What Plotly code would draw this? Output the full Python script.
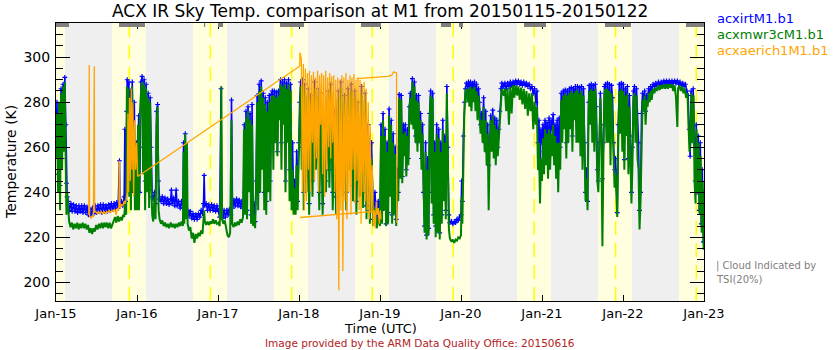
import plotly.graph_objects as go

# Hours are counted from 2015-01-15 00:00 UTC.

# acxirtM1.b1 : IR thermometer sky brightness temperature (K)
irt = [
    (0.0, 262), (0.3, 280), (0.6, 248), (0.9, 275), (1.2, 243), (1.5, 286), (1.8, 255), (2.1, 288),
    (2.4, 262), (2.6, 291), (2.9, 270), (3.1, 244), (3.3, 238), (3.6, 236),
    (4.0, 232), (4.4, 235), (4.8, 231.5), (5.2, 234.5), (5.6, 231.5), (6.0, 234), (6.4, 231), (6.8, 234),
    (7.2, 231.5), (7.6, 234), (8.0, 231), (8.4, 234), (8.8, 231), (9.2, 233.5), (9.6, 230), (10.0, 232.5),
    (10.4, 229.5), (10.8, 233), (11.2, 230.5), (11.6, 234), (12.0, 231), (12.4, 234), (12.8, 231.5),
    (13.2, 234.5), (13.6, 231), (14.0, 234.5), (14.4, 231.5), (14.8, 234), (15.2, 231.5), (15.6, 234.5),
    (16.0, 232), (16.4, 235), (16.8, 232.5), (17.2, 235), (17.6, 233), (18.0, 235.5), (18.4, 233),
    (18.8, 254), (19.0, 234), (19.4, 236), (19.8, 234), (20.2, 238),
    (20.4, 268), (20.6, 236), (20.9, 276), (21.1, 290), (21.3, 245), (21.6, 289), (21.8, 250), (22.0, 285),
    (22.3, 240), (22.6, 289), (22.9, 255), (23.2, 280), (23.5, 240), (23.8, 262), (24.1, 238), (24.5, 274),
    (24.8, 240), (25.2, 289), (25.5, 291.5), (25.8, 260), (26.1, 290), (26.4, 245), (26.7, 288), (27.0, 250),
    (27.3, 284), (27.6, 241), (27.9, 282), (28.2, 260), (28.5, 238), (28.8, 237), (29.2, 240), (29.5, 235),
    (29.8, 276), (30.1, 279), (30.4, 245), (30.7, 237), (31.1, 236),
    (31.5, 238), (31.9, 235), (32.3, 237.5), (32.7, 235), (33.1, 237), (33.5, 234.5), (34.0, 237),
    (34.2, 241), (34.4, 235), (34.8, 237.5), (35.2, 234), (35.6, 241), (35.9, 234), (36.3, 236), (36.8, 233),
    (37.2, 236), (37.6, 233), (37.8, 262), (38.0, 233), (38.3, 266), (38.5, 232),
    (39.0, 232), (39.4, 229.5), (39.8, 231.5), (40.2, 228.5), (40.6, 230.5), (41.0, 228), (41.4, 230),
    (41.8, 228), (42.2, 230.5), (42.6, 229), (43.0, 232), (43.4, 230.5), (43.7, 235), (43.9, 247.5),
    (44.1, 234), (44.5, 235), (44.9, 232), (45.3, 234.5), (45.7, 232), (46.1, 234.5), (46.5, 232),
    (46.9, 234), (47.3, 231.5), (47.7, 234),
    (48.1, 232), (48.5, 229), (48.9, 286), (49.1, 231), (49.4, 228.5), (49.8, 232), (50.2, 229), (50.6, 232),
    (51.0, 230), (51.4, 232.5), (51.8, 230), (52.0, 281), (52.3, 233), (52.7, 236.5), (53.1, 234), (53.5, 237),
    (53.9, 234), (54.3, 236.5), (54.7, 233.5), (55.1, 236), (55.5, 233),
    (55.8, 270), (56.0, 240), (56.3, 276), (56.6, 232), (56.9, 278), (57.2, 250), (57.5, 275), (57.8, 230),
    (58.1, 279), (58.4, 227), (58.7, 235), (59.0, 227), (59.3, 245),
    (59.6, 283), (59.9, 240), (60.2, 288), (60.5, 255), (60.8, 289.5), (61.1, 262), (61.4, 284), (61.7, 240),
    (62.0, 282), (62.3, 236), (62.6, 280), (62.9, 250), (63.2, 283), (63.5, 245), (63.8, 283.5),
    (64.1, 285), (64.4, 262), (64.7, 285), (65.0, 270), (65.3, 284.5), (65.6, 258), (65.9, 285), (66.2, 277),
    (66.5, 290), (66.8, 262), (67.1, 289), (67.4, 279), (67.7, 290), (68.0, 245), (68.3, 288.5), (68.6, 270),
    (68.9, 290), (69.2, 250), (69.5, 288),
    (69.8, 240), (70.1, 262), (70.4, 236), (70.7, 245), (71.0, 234), (71.3, 258), (71.6, 236), (71.9, 262),
    (72.2, 280), (72.5, 289), (72.8, 260), (73.1, 290), (73.4, 240), (73.8, 288), (74.2, 250), (74.6, 286),
    (75.0, 235), (75.5, 283), (76.0, 245), (76.5, 289), (77.0, 262), (77.5, 286), (78.0, 240), (78.5, 284),
    (79.0, 235), (79.5, 266), (80.0, 245), (80.5, 285), (81.0, 250), (81.5, 288), (82.0, 240), (82.5, 276),
    (83.0, 238), (83.5, 285), (84.0, 255), (84.5, 289), (85.0, 246), (85.5, 283), (86.0, 240), (86.5, 286),
    (87.0, 260), (87.5, 288), (88.0, 243), (88.5, 285), (89.0, 236), (89.5, 280), (90.0, 245), (90.5, 287),
    (91.0, 240), (91.5, 284), (92.0, 234), (92.5, 270), (93.0, 232), (93.5, 262), (94.0, 228), (94.5, 240),
    (95.0, 227), (95.5, 236), (96.0, 228),
    (96.3, 270), (96.6, 232), (96.9, 275), (97.2, 240), (97.5, 268), (97.8, 226), (98.1, 262), (98.4, 231),
    (98.7, 277), (99.0, 245), (99.3, 272), (99.6, 230), (99.9, 266), (100.2, 235), (100.5, 260), (100.8, 228),
    (101.1, 250), (101.4, 240), (101.7, 283.5), (102.0, 250), (102.3, 283), (102.6, 247), (102.9, 270),
    (103.2, 260), (103.5, 270), (103.8, 250), (104.1, 268), (104.4, 255), (104.7, 278),
    (105.0, 284), (105.3, 275), (105.6, 290.5), (105.9, 272), (106.2, 289), (106.5, 265), (106.8, 283),
    (107.1, 262), (107.4, 283), (107.7, 265), (108.0, 275), (108.3, 255), (108.6, 270),
    (108.9, 240), (109.2, 225), (109.5, 262), (109.8, 221), (110.1, 255), (110.4, 224), (110.7, 275),
    (111.0, 285), (111.3, 240), (111.6, 284), (111.9, 230), (112.2, 262), (112.5, 225), (112.8, 270),
    (113.1, 226), (113.4, 268), (113.7, 222), (114.0, 262), (114.3, 230), (114.6, 272), (114.9, 240),
    (115.2, 265), (115.5, 232), (115.8, 287), (116.1, 260), (116.4, 230),
    (116.7, 226.5), (117.2, 227), (117.6, 226), (118.0, 227), (118.4, 226.5), (118.8, 228), (119.2, 227.5),
    (119.6, 229), (120.0, 230), (120.2, 245),
    (120.4, 236), (120.7, 265), (121.0, 280), (121.3, 286), (121.6, 288.5), (121.9, 287), (122.2, 289),
    (122.5, 285), (122.8, 289), (123.1, 284), (123.4, 288.5), (123.7, 286), (124.0, 289), (124.3, 283),
    (124.6, 288), (124.9, 282), (125.2, 286), (125.5, 280),
    (125.8, 270), (126.1, 275), (126.4, 268), (126.7, 282), (127.0, 262), (127.3, 276), (127.6, 258),
    (127.9, 270), (128.2, 252), (128.5, 262), (128.8, 274), (129.1, 262), (129.4, 276.5), (129.7, 260),
    (130.0, 273), (130.3, 258), (130.6, 272), (130.9, 260), (131.2, 268), (131.5, 276),
    (131.8, 286), (132.1, 288.5), (132.4, 287), (132.7, 287), (133.0, 288.5), (133.4, 286), (133.8, 288.5),
    (134.2, 287), (134.6, 289), (135.0, 287.5), (135.4, 289), (135.8, 288), (136.2, 289.5), (136.6, 288),
    (137.0, 289.5), (137.4, 288), (137.8, 289), (138.2, 287.5), (138.6, 289), (139.0, 287.5), (139.4, 288.5),
    (139.8, 287), (140.2, 288), (140.6, 286), (141.0, 287), (141.4, 284), (141.8, 286), (142.2, 280),
    (142.5, 285), (142.8, 262), (143.1, 272), (143.4, 250), (143.7, 268), (144.0, 262),
    (144.3, 270), (144.6, 258), (144.9, 272), (145.2, 262), (145.5, 271), (145.8, 255), (146.1, 273),
    (146.4, 258), (146.7, 272), (147.0, 268), (147.3, 274.5), (147.6, 265), (147.9, 270), (148.2, 262),
    (148.5, 272), (148.8, 255), (149.1, 273), (149.4, 260),
    (149.7, 284), (150.0, 270), (150.3, 285), (150.6, 278), (150.9, 285.5), (151.2, 262), (151.5, 285),
    (151.8, 270), (152.1, 286), (152.4, 275), (152.7, 286.5), (153.0, 265), (153.3, 286), (153.6, 280),
    (153.9, 287), (154.2, 275), (154.5, 287), (154.8, 270), (155.1, 286.5), (155.4, 264), (155.7, 287),
    (156.0, 258), (156.3, 286), (156.6, 262), (156.9, 240), (157.2, 250), (157.5, 236), (157.8, 280),
    (158.0, 287.5), (158.3, 280), (158.6, 288), (158.9, 275), (159.2, 287.5), (159.5, 270), (159.8, 288),
    (160.1, 278), (160.4, 250), (160.7, 245), (161.0, 262), (161.3, 284), (161.6, 270), (161.9, 246),
    (162.2, 262), (162.5, 287), (162.8, 288), (163.1, 270), (163.4, 288.5), (163.7, 275), (164.0, 288),
    (164.3, 265), (164.6, 287.5), (164.9, 282), (165.2, 262), (165.5, 250), (165.8, 255), (166.0, 245),
    (166.3, 231), (166.6, 270), (166.9, 288), (167.2, 275), (167.5, 288.5), (167.8, 270), (168.1, 288),
    (168.4, 254.5), (168.7, 286), (169.0, 275), (169.3, 287), (169.6, 255), (169.9, 283),
    (170.2, 265), (170.5, 240), (170.8, 260), (171.1, 285), (171.4, 287), (171.7, 270), (172.0, 286),
    (172.3, 275), (172.6, 262), (172.9, 232), (173.2, 240), (173.5, 275),
    (173.8, 284), (174.1, 280), (174.4, 285), (174.7, 276), (175.0, 283), (175.3, 282), (175.6, 286),
    (175.9, 284), (176.2, 287), (176.5, 285),
    (176.9, 288), (177.3, 287), (177.7, 288.5), (178.1, 287.5), (178.5, 289), (178.9, 287.5), (179.3, 289),
    (179.7, 288), (180.1, 289.5), (180.5, 288), (180.9, 289.5), (181.3, 288.5), (181.7, 289.5), (182.1, 288),
    (182.5, 289.5), (182.9, 288.5), (183.3, 289.5), (183.7, 288.5), (184.1, 289.5), (184.5, 288), (184.9, 289),
    (185.3, 287.5), (185.7, 288.5), (186.1, 287), (186.5, 288), (186.9, 285), (187.3, 283),
    (187.6, 268), (187.9, 256), (188.2, 285), (188.5, 270), (188.8, 286), (189.1, 262),
    (189.4, 245), (189.7, 270), (190.0, 240), (190.3, 265), (190.6, 232), (190.9, 262), (191.2, 226),
    (191.5, 250), (191.8, 218), (192.0, 240),
]

# acxmwr3cM1.b1 : microwave radiometer sky temperature (K)
mwr = [
    (0.0, 255), (0.3, 275), (0.6, 240), (0.9, 280), (1.2, 232), (1.5, 284), (1.8, 250), (2.1, 287),
    (2.4, 258), (2.6, 289), (2.9, 250), (3.1, 230), (3.3, 240), (3.6, 230),
    (3.9, 227), (4.3, 224.5), (4.7, 226.5), (5.1, 223.5), (5.5, 226), (5.9, 224), (6.3, 226.5), (6.7, 223.5),
    (7.1, 226), (7.5, 224), (7.9, 226.5), (8.3, 224), (8.7, 226), (9.1, 223.5), (9.5, 225.5), (9.9, 222),
    (10.3, 224), (10.7, 221.5), (11.1, 224), (11.5, 222.5), (11.9, 225.5), (12.3, 223.5), (12.7, 226),
    (13.1, 224), (13.5, 226.5), (13.9, 224), (14.3, 226.5), (14.7, 224.5), (15.1, 226.5), (15.5, 224),
    (15.9, 226.5), (16.3, 224), (16.7, 225.5), (17.1, 227), (17.5, 229), (17.9, 226.5), (18.3, 229.5),
    (18.7, 227), (19.1, 229), (19.5, 227.5), (19.9, 230), (20.2, 229), (20.5, 235), (20.8, 230),
    (21.0, 287), (21.2, 240), (21.5, 286), (21.7, 238), (22.0, 280), (22.2, 232), (22.5, 287), (22.8, 240),
    (23.1, 270), (23.4, 232), (23.7, 258), (24.0, 232), (24.3, 270), (24.6, 232), (24.9, 276), (25.2, 285),
    (25.5, 289), (25.8, 248), (26.1, 288), (26.4, 232), (26.7, 286), (27.0, 240), (27.3, 282), (27.6, 233),
    (27.9, 280), (28.2, 246), (28.5, 230), (28.8, 227), (29.2, 238), (29.5, 228), (29.8, 270), (30.1, 278),
    (30.4, 232), (30.7, 228), (31.1, 226),
    (31.5, 227.5), (31.9, 225), (32.3, 226.5), (32.7, 224.5), (33.1, 226), (33.5, 224), (34.0, 226.5),
    (34.4, 224.5), (34.8, 226), (35.2, 224), (35.6, 226), (36.0, 224.5), (36.4, 226.5), (36.8, 225),
    (37.2, 227), (37.6, 225), (37.8, 258), (38.0, 226), (38.3, 266), (38.5, 228), (38.8, 262), (39.0, 226),
    (39.4, 223), (39.8, 224.5), (40.2, 219.5), (40.6, 222), (41.0, 217.5), (41.4, 221.5), (41.8, 219.5),
    (42.2, 222), (42.6, 220.5), (43.0, 223), (43.4, 221.5), (43.7, 226), (43.9, 232), (44.1, 227),
    (44.5, 225.5), (44.9, 227), (45.3, 225.5), (45.7, 227), (46.1, 226), (46.5, 228), (46.9, 226),
    (47.3, 227.5), (47.7, 226),
    (48.1, 226.5), (48.5, 225), (48.8, 240), (49.0, 287), (49.2, 228), (49.6, 226), (50.0, 227.5),
    (50.4, 223), (50.8, 221), (51.2, 220), (51.6, 222), (52.0, 272), (52.2, 226), (52.6, 224.5), (53.0, 226.5),
    (53.4, 225), (53.8, 227), (54.2, 225.5), (54.6, 228), (55.0, 226.5), (55.4, 229),
    (55.7, 268), (56.0, 230), (56.3, 273), (56.6, 228), (56.9, 276), (57.2, 240), (57.5, 272), (57.8, 226),
    (58.1, 270), (58.4, 225), (58.7, 230), (59.0, 224), (59.3, 244),
    (59.6, 280), (59.9, 232), (60.2, 285), (60.5, 240), (60.8, 287), (61.1, 250), (61.4, 282), (61.7, 232),
    (62.0, 279), (62.3, 230), (62.6, 276), (62.9, 240), (63.2, 280), (63.5, 236), (63.8, 281), (64.1, 283),
    (64.4, 250), (64.7, 283), (65.0, 262), (65.3, 282), (65.6, 256), (65.9, 283), (66.2, 272), (66.5, 288),
    (66.8, 250), (67.1, 287), (67.4, 270), (67.7, 288), (68.0, 240), (68.3, 286), (68.6, 262), (68.9, 288),
    (69.2, 236), (69.5, 285), (69.8, 232), (70.1, 250), (70.4, 230), (70.7, 242), (71.0, 230), (71.3, 252),
    (71.6, 232), (71.9, 255), (72.2, 278),
    (72.5, 287), (72.8, 250), (73.1, 288), (73.4, 232), (73.8, 285), (74.2, 240), (74.6, 283), (75.0, 230),
    (75.5, 280), (76.0, 238), (76.5, 286), (77.0, 250), (77.5, 283), (78.0, 232), (78.5, 280), (79.0, 230),
    (79.5, 262), (80.0, 240), (80.5, 282), (81.0, 242), (81.5, 285), (82.0, 232), (82.5, 270), (83.0, 230),
    (83.5, 282), (84.0, 246), (84.5, 286), (85.0, 238), (85.5, 280), (86.0, 232), (86.5, 283), (87.0, 250),
    (87.5, 285), (88.0, 236), (88.5, 282), (89.0, 230), (89.5, 276), (90.0, 238), (90.5, 284), (91.0, 233),
    (91.5, 281), (92.0, 228), (92.5, 265), (93.0, 226), (93.5, 255), (94.0, 225), (94.5, 233), (95.0, 224),
    (95.5, 229), (96.0, 225),
    (96.3, 265), (96.6, 226), (96.9, 272), (97.2, 232), (97.5, 265), (97.8, 225), (98.1, 258), (98.4, 226),
    (98.7, 274), (99.0, 238), (99.3, 270), (99.6, 226), (99.9, 262), (100.2, 230), (100.5, 257), (100.8, 225),
    (101.1, 246), (101.4, 236), (101.7, 282), (102.0, 246), (102.3, 281), (102.6, 244), (102.9, 266),
    (103.2, 256), (103.5, 267), (103.8, 247), (104.1, 265), (104.4, 252), (104.7, 276), (105.0, 282),
    (105.3, 270), (105.6, 289), (105.9, 268), (106.2, 287), (106.5, 262), (106.8, 281), (107.1, 258),
    (107.4, 280), (107.7, 262), (108.0, 272), (108.3, 250), (108.6, 266), (108.9, 236), (109.2, 222),
    (109.5, 258), (109.8, 219), (110.1, 250), (110.4, 221), (110.7, 272), (111.0, 283), (111.3, 235),
    (111.6, 282), (111.9, 226), (112.2, 258), (112.5, 220), (112.8, 266), (113.1, 222), (113.4, 264),
    (113.7, 219), (114.0, 258), (114.3, 226), (114.6, 268), (114.9, 236), (115.2, 262), (115.5, 228),
    (115.8, 284), (116.1, 255), (116.4, 224), (116.7, 219.5), (117.2, 218), (117.6, 219), (118.0, 217.5),
    (118.4, 219), (118.8, 218.5), (119.2, 220), (119.6, 219.5), (120.0, 221), (120.2, 238), (120.4, 226),
    (120.7, 258), (121.0, 276), (121.3, 284), (121.6, 286), (121.9, 280), (122.2, 286), (122.5, 278),
    (122.8, 287), (123.1, 276), (123.4, 286), (123.7, 280), (124.0, 287), (124.3, 276), (124.6, 285),
    (124.9, 272), (125.2, 283), (125.5, 274), (125.8, 266), (126.1, 272), (126.4, 262), (126.7, 278),
    (127.0, 258), (127.3, 272), (127.6, 252), (127.9, 266), (128.2, 232), (128.5, 258), (128.8, 272),
    (129.1, 258), (129.4, 274), (129.7, 255), (130.0, 270), (130.3, 252), (130.6, 268), (130.9, 256),
    (131.2, 264), (131.5, 273), (131.8, 283), (132.1, 286), (132.4, 284),
    (132.7, 283), (133.0, 286), (133.4, 276), (133.8, 286), (134.2, 270), (134.6, 287), (135.0, 275),
    (135.4, 287.5), (135.8, 282), (136.2, 287.5), (136.6, 283), (137.0, 287), (137.4, 281), (137.8, 286.5),
    (138.2, 279), (138.6, 286), (139.0, 277), (139.4, 285), (139.8, 274), (140.2, 284), (140.6, 276),
    (141.0, 284), (141.4, 268), (141.8, 280), (142.2, 270), (142.5, 278), (142.8, 250), (143.1, 262),
    (143.4, 235), (143.7, 255), (144.0, 245),
    (144.3, 264), (144.6, 248), (144.9, 268), (145.2, 252), (145.5, 266), (145.8, 246), (146.1, 268),
    (146.4, 250), (146.7, 266), (147.0, 256), (147.3, 270), (147.6, 252), (147.9, 265), (148.2, 246),
    (148.5, 262), (148.8, 240), (149.1, 262), (149.4, 250),
    (149.7, 281), (150.0, 262), (150.3, 283), (150.6, 268), (150.9, 284), (151.2, 255), (151.5, 283),
    (151.8, 262), (152.1, 284), (152.4, 268), (152.7, 285), (153.0, 258), (153.3, 284), (153.6, 272),
    (153.9, 285), (154.2, 262), (154.5, 285.5), (154.8, 262), (155.1, 284), (155.4, 256), (155.7, 285),
    (156.0, 250), (156.3, 283), (156.6, 252), (156.9, 236), (157.2, 246), (157.5, 232), (157.8, 276),
    (158.0, 285), (158.3, 270), (158.6, 286), (158.9, 262), (159.2, 285), (159.5, 258), (159.8, 286),
    (160.1, 268), (160.4, 245), (160.7, 240), (161.0, 256), (161.3, 282), (161.6, 262), (161.9, 216),
    (162.2, 255), (162.5, 284), (162.8, 286), (163.1, 262), (163.4, 286), (163.7, 262), (164.0, 285),
    (164.3, 252), (164.6, 284), (164.9, 270), (165.2, 252), (165.5, 242), (165.8, 248), (166.0, 236),
    (166.3, 229), (166.6, 262), (166.9, 285), (167.2, 266), (167.5, 286), (167.8, 258), (168.1, 285),
    (168.4, 250), (168.7, 283), (169.0, 265), (169.3, 284), (169.6, 248), (169.9, 278), (170.2, 255),
    (170.5, 235), (170.8, 252), (171.1, 282), (171.4, 284), (171.7, 262), (172.0, 283), (172.3, 255),
    (172.6, 250), (172.9, 223.5), (173.2, 236), (173.5, 268), (173.8, 281), (174.1, 276), (174.4, 283),
    (174.7, 270), (175.0, 281), (175.3, 278), (175.6, 284), (175.9, 280), (176.2, 285), (176.5, 281),
    (176.9, 286), (177.3, 284), (177.7, 286.5), (178.1, 285), (178.5, 287.5), (178.9, 285.5), (179.3, 287.5),
    (179.7, 286), (180.1, 288), (180.5, 286), (180.9, 288), (181.3, 286), (181.7, 288), (182.1, 286.5),
    (182.5, 288), (182.9, 285), (183.3, 287.5), (183.7, 282), (184.1, 269), (184.3, 286), (184.7, 287.5),
    (185.1, 285), (185.5, 287), (185.9, 284), (186.3, 286), (186.7, 282), (187.1, 284), (187.4, 270),
    (187.7, 258), (188.0, 262), (188.3, 284), (188.6, 262), (188.9, 283), (189.2, 245), (189.5, 235),
    (189.8, 268), (190.1, 240), (190.4, 262), (190.7, 230), (191.0, 256), (191.3, 222), (191.6, 245),
    (191.9, 214.5), (192.0, 238),
]

# acxaerich1M1.b1 : AERI channel 1 sky temperature (K); None marks a break in the record
aeri = [
    (9.7, 230), (9.85, 296.5), (9.95, 229.5), (10.3, 228.5), (10.7, 229.5), (11.1, 229), (11.2, 263),
    (11.25, 231), (11.35, 296), (11.45, 231), (11.8, 231.5), (12.2, 230.5), (12.6, 231.5), (13.0, 230.5),
    (13.4, 231.5), (13.8, 230.5), (14.2, 231.5), (14.6, 230.5), (15.0, 231.5), (15.4, 231), (15.8, 232),
    (16.2, 231), (16.6, 232), (17.0, 231.5), (17.4, 232.5), (17.8, 230), (18.2, 233), (18.6, 232),
    (18.8, 254), (19.0, 233), (19.4, 234.5), (19.8, 234), (20.2, 236), (20.5, 235), (20.8, 237), (21.1, 240),
    (21.3, 275), (21.5, 240), (21.8, 282), (22.0, 245), (22.3, 286), (22.5, 250), (22.8, 280), (23.0, 238),
    (23.3, 272), (23.6, 250), (23.9, 262), (24.2, 247),
    (72.2, 296), (72.3, 302), (72.4, 301.5), (72.7, 299), (73.0, 240), (73.3, 297), (73.6, 232), (73.9, 295),
    (74.2, 236), (74.5, 293), (74.8, 250), (75.1, 294), (75.4, 240), (75.7, 292), (76.0, 262), (76.3, 293.5),
    (76.6, 245), (76.9, 291), (77.2, 255), (77.5, 294), (77.8, 240), (78.1, 292), (78.4, 270), (78.7, 293),
    (79.0, 248), (79.3, 292), (79.6, 238), (79.9, 294), (80.2, 250), (80.5, 291), (80.8, 260), (81.1, 293),
    (81.4, 255), (81.7, 291.5), (82.0, 262), (82.3, 292), (82.6, 240), (82.9, 290), (83.2, 228), (83.5, 291),
    (83.8, 196.5), (84.1, 290), (84.4, 232), (84.7, 292), (85.0, 205), (85.3, 291), (85.6, 236), (85.9, 293),
    (86.2, 228), (86.5, 290), (86.8, 240), (87.1, 292), (87.4, 230), (87.7, 291), (88.0, 250), (88.3, 292.5),
    (88.6, 235), (88.9, 290), (89.2, 245), (89.5, 291), (89.8, 232), (90.1, 290), (90.4, 226), (90.7, 288),
    (91.0, 240), (91.3, 289), (91.6, 236), (91.9, 286), (92.2, 232), (92.5, 280), (92.8, 228), (93.1, 270),
    (93.4, 231), (93.7, 252), (94.0, 225), (94.3, 232), (94.6, 224), (94.9, 236), (95.2, 230), (95.5, 233),
    (95.8, 226), (96.1, 232), (96.3, 228),
    (None, None),
    (72.3, 228.8), (88.0, 230.5), (94.3, 231.5),
    (None, None),
    (89.1, 290.5), (98.4, 291.5), (99.5, 292), (100.0, 293.5), (100.9, 293), (101.0, 226.5),
]

irt_hours, irt_temp = [p[0] for p in irt], [p[1] for p in irt]
mwr_hours, mwr_temp = [p[0] for p in mwr], [p[1] for p in mwr]
aeri_hours, aeri_temp = [p[0] for p in aeri], [p[1] for p in aeri]

# axis ticks: one per day
day_ticks = [0, 24, 48, 72, 96, 120, 144, 168, 192]
day_labels = ["Jan-15", "Jan-16", "Jan-17", "Jan-18", "Jan-19", "Jan-20", "Jan-21", "Jan-22", "Jan-23"]
temp_ticks = [200, 220, 240, 260, 280, 300]

# daylight periods (hours) and local solar noon
daylight = [(0, 2.67), (16.6, 26.67), (40.6, 50.67), (64.6, 74.67), (88.6, 98.67),
            (112.6, 122.67), (136.6, 146.67), (160.6, 170.67), (184.6, 192)]
solar_noon = [21.72, 45.72, 69.83, 93.7, 117.7, 141.7, 165.8, 189.7]

# periods flagged cloudy by the TSI (20% threshold)
tsi_cloud = [(0, 3.85), (18.67, 26.37), (43.85, 44.2), (48.0, 49.5), (66.37, 73.48), (90.37, 96.3),
             (114.07, 117.04), (119.4, 120.6), (138.67, 145.2), (162.67, 170.37), (186.67, 192)]

W, H = 840, 350
L, R, T, B = 56, 136, 23, 49
PW, PH = W - L - R, H - T - B

def px(x):
    return (x - L) / PW

def py(y):
    return (H - B - y) / PH

FONT = "DejaVu Sans"
NIGHT = "#efefef"
DAY = "#ffffe0"

fig = go.Figure()

for x0, x1 in daylight:
    fig.add_shape(type="rect", xref="x", yref="paper", x0=x0, x1=x1, y0=0, y1=1,
                  fillcolor=DAY, line_width=0, layer="below")
for xn in solar_noon:
    fig.add_shape(type="line", xref="x", yref="paper", x0=xn, x1=xn, y0=0, y1=1,
                  line=dict(color="#ffff00", width=1.5, dash="14px,8px"), layer="below")
for x0, x1 in tsi_cloud:
    fig.add_shape(type="rect", xref="x", yref="paper", x0=x0, x1=x1, y0=1 - 4 / PH, y1=1,
                  fillcolor="#808080", line_width=0, layer="above")

fig.add_trace(go.Scatter(
    x=irt_hours, y=irt_temp, mode="lines+markers", name="acxirtM1.b1",
    line=dict(color="#0000ff", width=1.6),
    marker=dict(symbol="cross-thin", size=3.5, line=dict(color="#0000ff", width=1.2)),
))
fig.add_trace(go.Scatter(
    x=mwr_hours, y=mwr_temp, mode="lines", name="acxmwr3cM1.b1",
    line=dict(color="#008000", width=2),
))
fig.add_trace(go.Scatter(
    x=aeri_hours, y=aeri_temp, mode="lines", name="acxaerich1M1.b1",
    line=dict(color="#ffa500", width=1.3), connectgaps=False,
))

fig.update_xaxes(
    range=[0, 192], tickvals=day_ticks, ticktext=day_labels,
    ticks="inside", ticklen=6, tickcolor="black", showline=True, linecolor="black", linewidth=1,
    mirror="ticks", showgrid=False, zeroline=False,
    tickfont=dict(family=FONT, size=13, color="black"), ticklabelstandoff=0,
)
fig.update_yaxes(
    range=[191.7, 315.2], tickvals=temp_ticks,
    ticks="inside", ticklen=14, tickcolor="black", showline=True, linecolor="black", linewidth=1,
    mirror="ticks", showgrid=False, zeroline=False,
    minor=dict(dtick=5, tick0=0, ticks="inside", ticklen=7, tickcolor="black", showgrid=False),
    tickfont=dict(family=FONT, size=14, color="black"), ticklabelstandoff=2,
)

annotations = [
    dict(text="ACX IR Sky Temp. comparison at M1 from 20150115-20150122", x=px(380), y=py(11),
         xanchor="center", yanchor="middle", font=dict(family=FONT, size=17, color="black")),
    dict(text="acxirtM1.b1", x=px(715), y=py(18.5), xanchor="left", yanchor="middle",
         font=dict(family=FONT, size=13, color="#0000ff")),
    dict(text="acxmwr3cM1.b1", x=px(715), y=py(34.5), xanchor="left", yanchor="middle",
         font=dict(family=FONT, size=13, color="#008000")),
    dict(text="acxaerich1M1.b1", x=px(715), y=py(50.5), xanchor="left", yanchor="middle",
         font=dict(family=FONT, size=13, color="#ffa500")),
    dict(text="Temperature (K)", x=px(11), y=py(162), xanchor="center", yanchor="middle", textangle=-90,
         font=dict(family=FONT, size=14, color="black")),
    dict(text="Time (UTC)", x=px(380), y=py(328.5), xanchor="center", yanchor="middle",
         font=dict(family=FONT, size=13, color="black")),
    dict(text="Image provided by the ARM Data Quality Office: 20150616", x=px(420), y=py(342.5),
         xanchor="center", yanchor="middle", font=dict(family=FONT, size=10.5, color="#b22222")),
    dict(text="| Cloud Indicated by", x=px(714), y=py(266), xanchor="left", yanchor="middle",
         font=dict(family=FONT, size=10, color="#808080")),
    dict(text="TSI(20%)", x=px(714), y=py(279), xanchor="left", yanchor="middle",
         font=dict(family=FONT, size=10, color="#808080")),
]
for a in annotations:
    a.update(xref="paper", yref="paper", showarrow=False)

fig.update_layout(
    width=W, height=H, autosize=False,
    margin=dict(l=L, r=R, t=T, b=B, pad=0),
    paper_bgcolor="white", plot_bgcolor=NIGHT,
    showlegend=False, annotations=annotations,
)

fig.write_html("out.html")
